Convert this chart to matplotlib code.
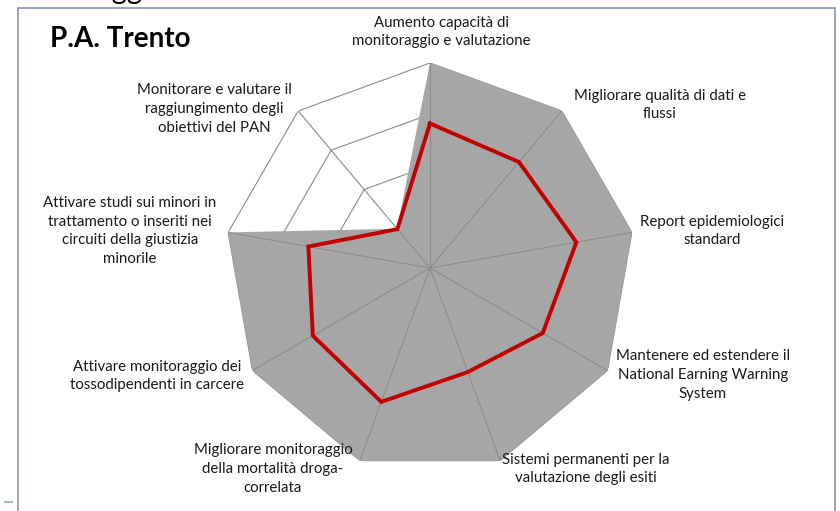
import numpy as np
import matplotlib.pyplot as plt
from matplotlib.patches import Rectangle
from matplotlib.lines import Line2D

# data
categories = [
    "Aumento capacità di\nmonitoraggio e valutazione",
    "Migliorare qualità di dati e\nflussi",
    "Report epidemiologici\nstandard",
    "Mantenere ed estendere il\nNational Earning Warning\nSystem",
    "Sistemi permanenti per la\nvalutazione degli esiti",
    "Migliorare monitoraggio\ndella mortalità droga-\ncorrelata",
    "Attivare monitoraggio dei\ntossodipendenti in carcere",
    "Attivare studi sui minori in\ntrattamento o inseriti nei\ncircuiti della giustizia\nminorile",
    "Monitorare e valutare il\nraggiungimento degli\nobiettivi del PAN",
]
obiettivo = [4, 4, 4, 4, 4, 4, 4, 4, 1]
trento = [2.82, 2.70, 2.90, 2.54, 2.16, 2.78, 2.64, 2.41, 0.99]
rings = [1, 2, 3, 4]
title = "P.A. Trento"

# label centres in pixels (layout only)
label_pos = [(441, 32), (660, 105), (712, 231), (703, 375), (586, 469),
             (273, 469), (157, 376), (130, 231), (214, 109)]

W, H = 840, 511
plt.rcParams['font.family'] = ['Lato', 'DejaVu Sans']
fig = plt.figure(figsize=(W / 100, H / 100), dpi=100)

def fx(x):
    return x / W

def fy(y):
    return 1 - y / H

# chart frame
fig.add_artist(Rectangle((fx(18), fy(530)), fx(835) - fx(18), fy(8) - fy(530),
                         transform=fig.transFigure, fill=False,
                         edgecolor="#8e9bc6", lw=1.3))
fig.add_artist(Line2D([fx(5), fx(12)], [fy(502), fy(502)], transform=fig.transFigure,
                      color="#a9b8d0", lw=1.5))
# slide heading above the chart, cut by the crop
fig.text(fx(165), fy(-1), "monitoraggio", ha="right", va="baseline",
         fontsize=21, color="black")

cx, cy, R = 430, 268, 205
ax = fig.add_axes([(cx - R) / W, (H - cy - R) / H, 2 * R / W, 2 * R / H],
                  projection="polar")
ax.set_theta_zero_location("N")
ax.set_theta_direction(-1)
ax.axis("off")

n = len(categories)
theta = np.linspace(0, 2 * np.pi, n, endpoint=False)
tc = np.append(theta, theta[0])

grid_col = "#8c8c8c"
for r in rings:
    ax.plot(tc, [r] * (n + 1), color=grid_col, lw=0.8, zorder=1)

ax.fill(tc, np.append(obiettivo, obiettivo[0]), color="#a6a6a6", lw=0, zorder=2)

for t in theta:
    ax.plot([t, t], [0, rings[-1]], color=grid_col, lw=0.8, zorder=3)

ax.plot(tc, np.append(trento, trento[0]), color="#c00000", lw=2.8, zorder=4,
        solid_joinstyle="miter")
ax.set_ylim(0, rings[-1])

for lab, (x, y) in zip(categories, label_pos):
    fig.text(fx(x), fy(y), lab, ha="center", va="center", multialignment="center",
             fontsize=10.8, linespacing=1.45, color="#1a1a1a")

fig.text(fx(50), fy(39), title, ha="left", va="center", fontsize=20,
         fontweight="bold", color="black")

fig.savefig("out.png", dpi=100)
